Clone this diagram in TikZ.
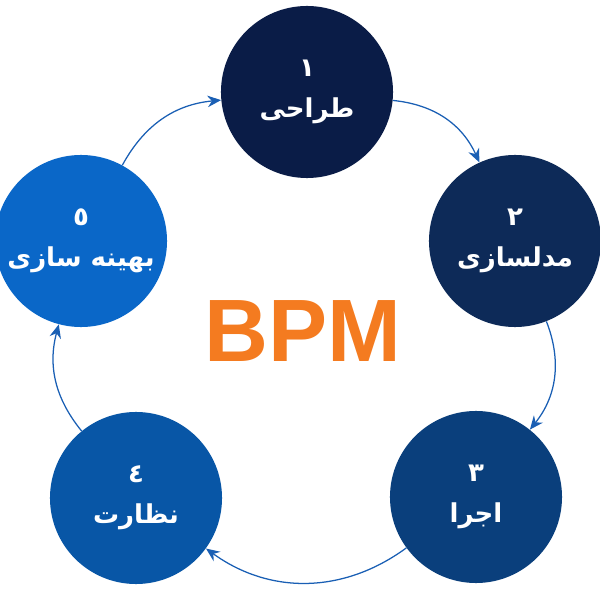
\documentclass[tikz,border=0pt]{standalone}
\usepackage{fontspec}
\usepackage{xcolor}
\usepackage{tikz}
\usetikzlibrary{arrows.meta}
\TeXXeTstate=1
\newfontfamily\arabicfont[Script=Arabic]{DejaVu Sans}
\newfontfamily\latinfont{Liberation Sans}
\definecolor{stepone}{HTML}{0A1C47}
\definecolor{steptwo}{HTML}{0D2A58}
\definecolor{stepthree}{HTML}{0A3F7C}
\definecolor{stepfour}{HTML}{0856A6}
\definecolor{stepfive}{HTML}{0A67C8}
\definecolor{flowblue}{HTML}{1A5FB4}
\definecolor{bpmorange}{HTML}{F47B20}

\begin{document}
\begin{tikzpicture}[x=0.025cm,y=0.025cm,
    phase/.style={circle, minimum size=4.3cm, inner sep=0pt, text=white,
      align=center, font=\arabicfont\bfseries\fontsize{18.5}{29}\selectfont},
    flow/.style={draw=flowblue, line width=0.9pt,
      -{Stealth[length=3.4mm,width=2.9mm]}}]
    \useasboundingbox (0,0) rectangle (600,600);
    % Process phases
    \node[phase, fill=stepone] (tarahi) at (307,508) {١\\\beginR طراحی\endR};
    \node[phase, fill=steptwo] (modelsazi) at (515,359) {٢\\\beginR مدلسازی\endR};
    \node[phase, fill=stepthree] (ejra) at (476,103) {٣\\\beginR اجرا\endR};
    \node[phase, fill=stepfour] (nezarat) at (136,102) {٤\\\beginR نظارت\endR};
    \node[phase, fill=stepfive] (behine) at (81,359) {٥\\\beginR بهینه سازی\endR};
    % Title in the middle
    \node[text=bpmorange, font=\latinfont\bfseries\fontsize{63}{70}\selectfont] (bpm) at (303,269) {BPM};
    % Cycle arrows
    \draw[flow] (behine) to[bend left=28] (tarahi);
    \draw[flow] (tarahi) to[bend left=30] (modelsazi);
    \draw[flow] (modelsazi) to[bend left=30] (ejra);
    \draw[flow] (ejra) to[bend left=36] (nezarat);
    \draw[flow] (nezarat) to[bend left=27] (behine);
\end{tikzpicture}
\end{document}
